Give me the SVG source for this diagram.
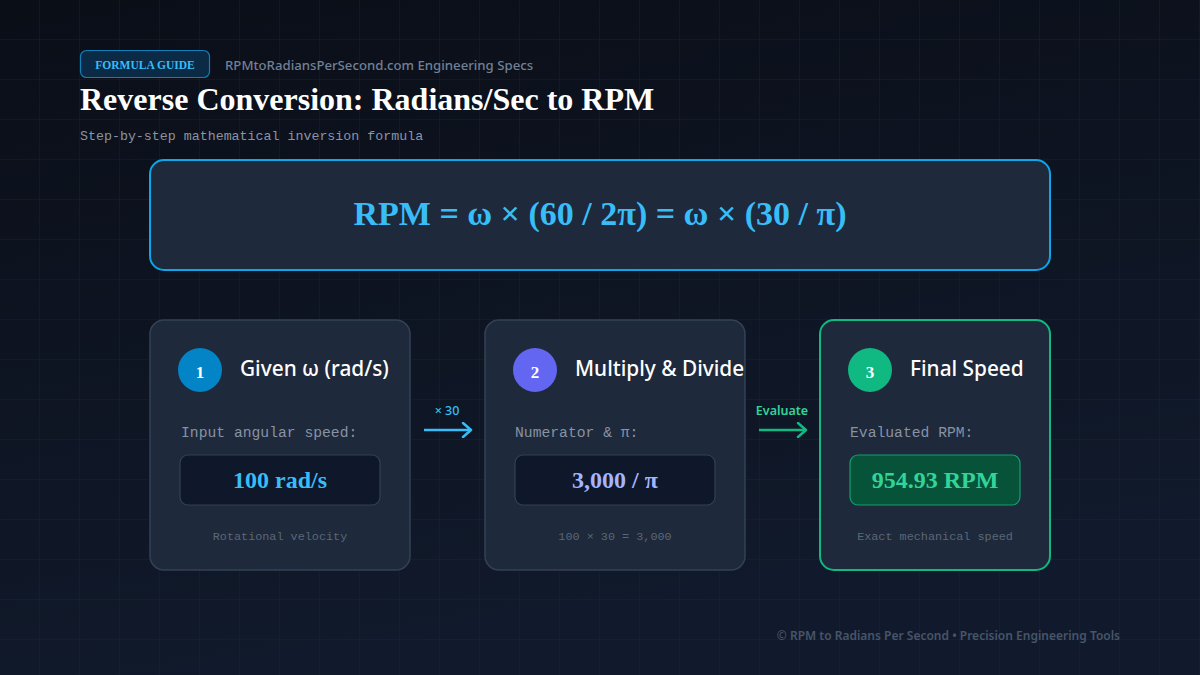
<svg xmlns="http://www.w3.org/2000/svg" width="1200" height="675" viewBox="0 0 1200 675">
  <defs>
    <linearGradient id="bg" x1="0" y1="0" x2="0.3" y2="1">
      <stop offset="0" stop-color="#0a0e17"/>
      <stop offset="1" stop-color="#111a2c"/>
    </linearGradient>
    <pattern id="grid" width="40" height="40" patternUnits="userSpaceOnUse">
      <path d="M40 0 V40 M0 40 H40" fill="none" stroke="#1c2638" stroke-width="1" opacity="0.7"/>
    </pattern>
    <marker id="arrBlue" viewBox="0 0 12 16" refX="10" refY="8" markerWidth="12" markerHeight="16" markerUnits="userSpaceOnUse" orient="auto">
      <path d="M2 1 L10 8 L2 15" fill="none" stroke="#38bdf8" stroke-width="2.5" stroke-linecap="round" stroke-linejoin="round"/>
    </marker>
    <marker id="arrGreen" viewBox="0 0 12 16" refX="10" refY="8" markerWidth="12" markerHeight="16" markerUnits="userSpaceOnUse" orient="auto">
      <path d="M2 1 L10 8 L2 15" fill="none" stroke="#10b981" stroke-width="2.5" stroke-linecap="round" stroke-linejoin="round"/>
    </marker>
  </defs>
  <style>
    .serifb { font-family: "Liberation Serif", "Times New Roman", serif; font-weight: bold; }
    .sans { font-family: "Noto Sans", "Open Sans", sans-serif; }
    .mono { font-family: "Liberation Mono", "DejaVu Sans Mono", monospace; }
    .card { fill: #1e293b; stroke: #334155; stroke-width: 1.5; }
    .vbox { fill: #0f172a; stroke: #334155; stroke-width: 1.2; }
    .ctitle { font-family: "Noto Sans", "Open Sans", sans-serif; font-size: 20.8px; font-weight: 500; fill: #ffffff; }
    .clabel { font-family: "Liberation Mono", "DejaVu Sans Mono", monospace; font-size: 14.7px; fill: #8792a3; }
    .cnote { font-family: "Liberation Mono", "DejaVu Sans Mono", monospace; font-size: 11.8px; fill: #5b6779; text-anchor: middle; }
    .num { font-family: "Liberation Serif", serif; font-weight: bold; font-size: 17px; fill: #ffffff; text-anchor: middle; }
    .val { font-family: "Liberation Serif", serif; font-weight: bold; font-size: 24px; text-anchor: middle; }
  </style>

  <rect width="1200" height="675" fill="url(#bg)"/>
  <rect width="1200" height="675" fill="url(#grid)"/>

  <g id="header">
    <rect x="80.5" y="50.5" width="129" height="27" rx="6" fill="#0b2a45" stroke="#0e7fb8" stroke-width="1.2"/>
    <text x="145" y="68.5" class="serifb" font-size="11.5" fill="#38bdf8" text-anchor="middle">FORMULA GUIDE</text>
    <text x="225" y="70" class="sans" font-size="13.2" font-weight="500" fill="#718096">RPMtoRadiansPerSecond.com Engineering Specs</text>
    <text x="80" y="110" class="serifb" font-size="32" fill="#ffffff">Reverse Conversion: Radians/Sec to RPM</text>
    <text x="80" y="140" class="mono" font-size="13.3" fill="#8a94a6">Step-by-step mathematical inversion formula</text>
  </g>

  <g id="formula">
    <rect x="150" y="160" width="900" height="110" rx="14" fill="#1e293b" stroke="#0ea5e9" stroke-width="2"/>
    <text x="600" y="225" class="serifb" font-size="34" fill="#38bdf8" text-anchor="middle">RPM = ω × (60 / 2π) = ω × (30 / π)</text>
  </g>

  <g id="step1">
    <rect x="150" y="320" width="260" height="250" rx="14" class="card"/>
    <circle cx="200" cy="370" r="22" fill="#0284c7"/>
    <text x="200" y="378" class="num">1</text>
    <text x="240" y="376" class="ctitle">Given ω (rad/s)</text>
    <text x="181" y="437" class="clabel">Input angular speed:</text>
    <rect x="180" y="455" width="200" height="50" rx="8" class="vbox"/>
    <text x="280" y="488" class="val" fill="#38bdf8">100 rad/s</text>
    <text x="280" y="540" class="cnote">Rotational velocity</text>
  </g>

  <g id="step2">
    <rect x="485" y="320" width="260" height="250" rx="14" class="card"/>
    <circle cx="535" cy="370" r="22" fill="#6366f1"/>
    <text x="535" y="378" class="num">2</text>
    <text x="575" y="376" class="ctitle">Multiply &amp; Divide</text>
    <text x="515" y="437" class="clabel">Numerator &amp; π:</text>
    <rect x="515" y="455" width="200" height="50" rx="8" class="vbox"/>
    <text x="615" y="488" class="val" fill="#a5b4fc">3,000 / π</text>
    <text x="615" y="540" class="cnote">100 × 30 = 3,000</text>
  </g>

  <g id="step3">
    <rect x="820" y="320" width="230" height="250" rx="14" fill="#1e293b" stroke="#10b981" stroke-width="2"/>
    <circle cx="870" cy="370" r="22" fill="#10b981"/>
    <text x="870" y="378" class="num">3</text>
    <text x="910" y="376" class="ctitle">Final Speed</text>
    <text x="850" y="437" class="clabel">Evaluated RPM:</text>
    <rect x="850" y="455" width="170" height="50" rx="8" fill="#065339" stroke="#12a06f" stroke-width="1.2"/>
    <text x="935" y="488" class="val" fill="#34d399">954.93 RPM</text>
    <text x="935" y="540" class="cnote" fill="#5fd3a6">Exact mechanical speed</text>
  </g>

  <g id="connectors">
    <line x1="424" y1="430" x2="471" y2="430" stroke="#38bdf8" stroke-width="2.5" marker-end="url(#arrBlue)"/>
    <text x="447" y="415" class="sans" font-size="12.5" font-weight="500" fill="#38bdf8" text-anchor="middle">× 30</text>
    <line x1="759" y1="430" x2="806" y2="430" stroke="#10b981" stroke-width="2.5" marker-end="url(#arrGreen)"/>
    <text x="782" y="415" class="sans" font-size="12.5" font-weight="600" fill="#34d399" text-anchor="middle">Evaluate</text>
  </g>

  <g id="footer">
    <text x="1120" y="640" class="sans" font-size="12" font-weight="600" fill="#475569" text-anchor="end">© RPM to Radians Per Second • Precision Engineering Tools</text>
  </g>
</svg>
